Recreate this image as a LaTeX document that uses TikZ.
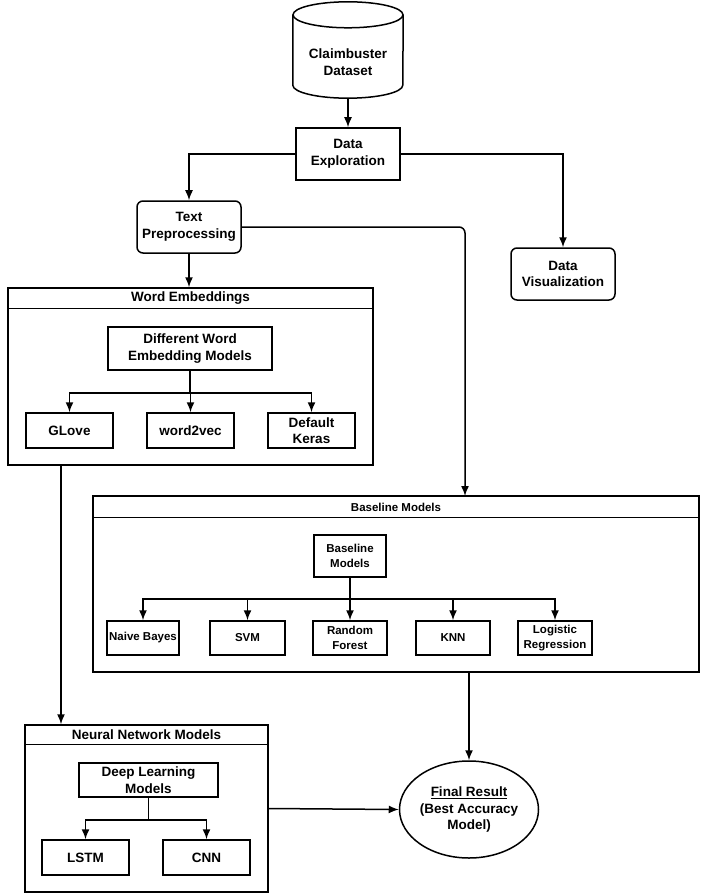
\documentclass[tikz,border=0pt]{standalone}
\usepackage{fontspec}
\setmainfont{Liberation Sans}
\usetikzlibrary{arrows.meta,shapes.geometric}
\tikzset{bx/.style={draw,line width=1.5pt,align=center,inner sep=0pt},
 rb/.style={bx,rounded corners=6pt},
 cont/.style={draw,line width=1.5pt,inner sep=0pt},
 flow/.style={-{Latex[length=10pt,width=8pt]},line width=1.5pt},wire/.style={line width=1.5pt},
 sm/.style={font=\bfseries\fontsize{11.5}{15.5}\selectfont}}

\begin{document}
\begin{tikzpicture}[x=1pt,y=-1pt,font=\bfseries\fontsize{13.5}{16.5}\selectfont]
\useasboundingbox[fill=white] (0,0) rectangle (708,896);
% top part
\node[inner sep=0pt,minimum width=110pt,minimum height=96pt](ds) at (348,50){};
\draw[wire]([yshift=-13pt]ds.north) ellipse[x radius=55pt,y radius=13pt];
\draw[wire]([yshift=-13pt]ds.north west)--([yshift=13pt]ds.south west) arc[start angle=180,end angle=360,x radius=55pt,y radius=13pt]--([yshift=-13pt]ds.north east);
\node[align=center](dst) at (348,62){Claimbuster\\Dataset};
\node[bx,minimum width=104pt,minimum height=52pt](de) at (348,154){Data\\Exploration};
\node[rb,minimum width=104pt,minimum height=52pt](tp) at (189,227){Text\\Preprocessing};
\node[rb,minimum width=104pt,minimum height=52pt](dv) at (563,274){Data\\Visualization};
\draw[flow](ds.south)--(de.north);
\draw[flow](de.west)-|(tp.north);\draw[flow](de.east)-|(dv.north);
% word embeddings
\node[cont,minimum width=365pt,minimum height=177pt](we) at (190.5,376.5){};
\draw[wire]([yshift=-21pt]we.north west)--([yshift=-21pt]we.north east);
\node(weh) at (190.5,298.5){Word Embeddings};
\node[bx,minimum width=164pt,minimum height=43pt](dwe) at (190,348.5){Different Word\\Embedding Models};
\node[bx,minimum width=87pt,minimum height=35pt](gl) at (69.5,430.5){GLove};
\node[bx,minimum width=87pt,minimum height=35pt](wv) at (190.5,430.5){word2vec};
\node[bx,minimum width=87pt,minimum height=35pt](dk) at (311.5,430.5){Default\\Keras};
\foreach \n in {gl,wv,dk} \draw[flow](dwe.south)--++(0,22)-|(\n.north);
\draw[flow](tp.south)--(tp.south |- we.north);
% baseline models
\coordinate (bin) at (465,496);
\node[cont,minimum width=606pt,minimum height=176pt](bm) at (396,584){};
\draw[wire]([yshift=-22pt]bm.north west)--([yshift=-22pt]bm.north east);
\node[sm](bmh) at (396,507){Baseline Models};
\node[bx,sm,minimum width=72pt,minimum height=42pt](bmi) at (350,556){Baseline\\Models};
\node[bx,sm,minimum width=72pt,minimum height=34pt](nb) at (143,638){Naive Bayes};
\node[bx,sm,minimum width=75pt,minimum height=34pt](svm) at (247.5,638){SVM};
\node[bx,sm,minimum width=74pt,minimum height=34pt](rf) at (350,638){Random\\Forest};
\node[bx,sm,minimum width=74pt,minimum height=34pt](knn) at (453,638){KNN};
\node[bx,sm,minimum width=74pt,minimum height=34pt](lr) at (555,638){Logistic\\Regression};
\foreach \n in {nb,svm,rf,knn,lr} \draw[flow](bmi.south)--++(0,21)-|(\n.north);
\draw[flow,rounded corners=6pt](tp.east)-|(bin);
% neural network models
\node[cont,minimum width=243pt,minimum height=167pt](nn) at (146.5,808.5){};
\draw[wire]([yshift=-20pt]nn.north west)--([yshift=-20pt]nn.north east);
\node(nnh) at (146.5,735){Neural Network Models};
\node[bx,minimum width=139pt,minimum height=34pt](dl) at (148.5,780){Deep Learning\\Models};
\node[bx,minimum width=87pt,minimum height=35pt](ls) at (85.5,857.5){LSTM};
\node[bx,minimum width=87pt,minimum height=35pt](cnn) at (206.5,857.5){CNN};
\foreach \n in {ls,cnn} \draw[flow](dl.south)--++(0,22)-|(\n.north);
\coordinate (wo) at (61,465);
\draw[flow](wo)--(wo |- nn.north);
% final result
\node[bx,ellipse,minimum width=132pt,minimum height=97pt](fr) at (469,809.5){\underline{Final Result}\\(Best Accuracy\\Model)};
\draw[flow](nn.east)--(fr.west);
\draw[flow](fr.north |- bm.south)--(fr.north);
\end{tikzpicture}
\end{document}
